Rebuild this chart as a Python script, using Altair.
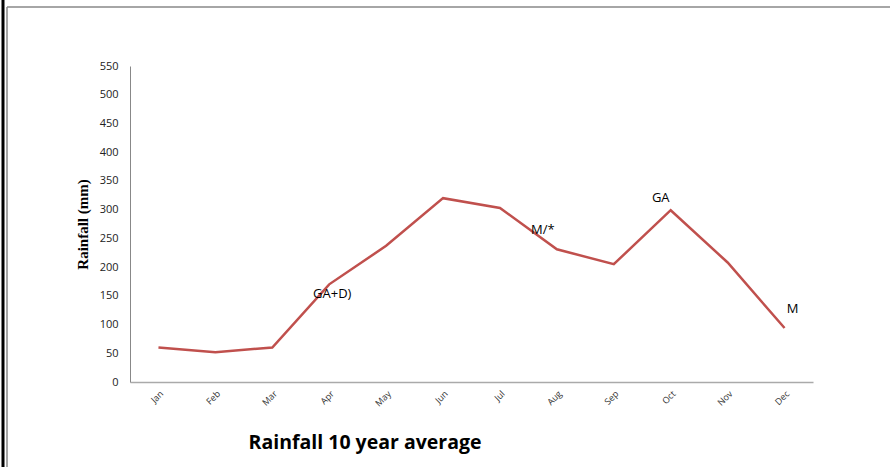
import altair as alt
import pandas as pd

months = ["Jan", "Feb", "Mar", "Apr", "May", "Jun", "Jul", "Aug", "Sep", "Oct", "Nov", "Dec"]
rainfall = [60, 52, 60, 170, 237, 320, 303, 231, 205, 299, 208, 94]

ann_months = ["Apr", "Aug", "Oct", "Dec"]
ann_texts = ["GA+D)", "M/*", "GA", "M"]

df = pd.DataFrame({"month": months, "rain": rainfall})
ann = pd.DataFrame({"month": ann_months, "label": ann_texts,
                    "rain": [rainfall[months.index(m)] for m in ann_months]})

W, H = 683, 316
LEFT, TOP = 130, 66

x = alt.X("month:N", sort=months, scale=alt.Scale(paddingOuter=0.5, paddingInner=0),
          axis=alt.Axis(title=None, labelAngle=-45, labelFontSize=9, labelFont="Open Sans",
                        labelColor="#333", ticks=False, domainColor="#aaa", labelPadding=7,
                        domainWidth=1.5))
y = alt.Y("rain:Q", scale=alt.Scale(domain=[0, 550]),
          axis=alt.Axis(values=list(range(0, 551, 50)), title="Rainfall (mm)",
                        titleFont="Liberation Serif", titleFontSize=15, titleFontWeight="bold",
                        titleColor="#000", titlePadding=9, labelOverlap=False,
                        labelFont="Open Sans", labelFontSize=11, labelColor="#222",
                        ticks=False, grid=False, labelPadding=12, domainColor="#888"))

line = alt.Chart(df).mark_line(color="#C0504D", strokeWidth=2.5).encode(x=x, y=y)

offsets = {"Apr": (3, 10), "Aug": (-14, -19), "Oct": (-10, -12), "Dec": (8, -19)}
texts = []
for m, t in zip(ann_months, ann_texts):
    dx, dy = offsets[m]
    texts.append(
        alt.Chart(ann[ann["month"] == m]).mark_text(
            font="Open Sans", fontSize=13, color="#000", dx=dx, dy=dy
        ).encode(x=x, y=y, text="label:N")
    )

title = alt.Chart(pd.DataFrame({"t": ["Rainfall 10 year average"]})).mark_text(
    font="Open Sans", fontSize=19.5, fontWeight="bold", color="#000", align="center"
).encode(x=alt.value(365 - LEFT), y=alt.value(443 - TOP), text="t:N")

frame_data = pd.DataFrame({"k": [0]})
left_black = alt.Chart(frame_data).mark_rule(color="#000", strokeWidth=3).encode(
    x=alt.value(3 - LEFT), y=alt.value(-TOP), y2=alt.value(467 - TOP))
left_gray = alt.Chart(frame_data).mark_rule(color="#888", strokeWidth=1.5).encode(
    x=alt.value(7 - LEFT), y=alt.value(7 - TOP), y2=alt.value(467 - TOP))
top_gray = alt.Chart(frame_data).mark_rule(color="#888", strokeWidth=1.5).encode(
    x=alt.value(7 - LEFT), x2=alt.value(890 - LEFT), y=alt.value(7 - TOP))

chart = alt.layer(line, *texts, title, left_black, left_gray, top_gray).properties(
    width=W, height=H,
    background="white",
    autosize=alt.AutoSizeParams(type="none"),
    padding={"left": LEFT, "top": TOP, "right": 890 - LEFT - W, "bottom": 467 - TOP - H},
).configure_view(stroke=None)

chart.save("out.html", embed_options={"renderer": "svg", "actions": False})
